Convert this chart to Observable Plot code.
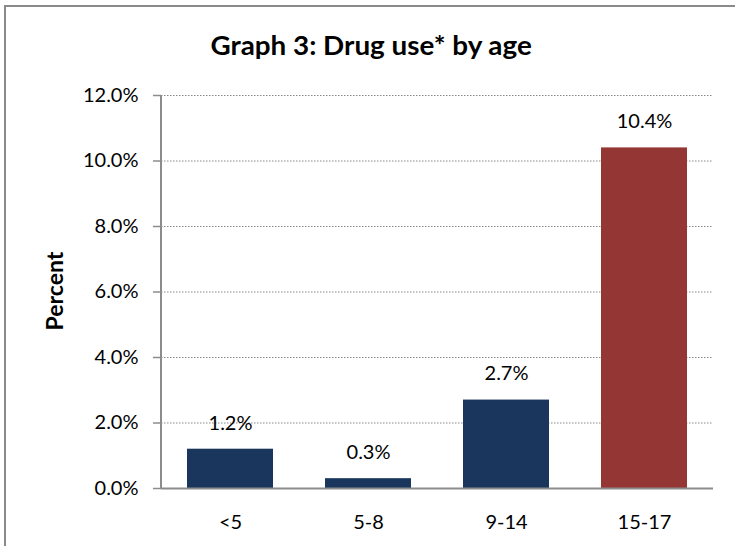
<!DOCTYPE html>
<html><head><meta charset="utf-8">
<script src="https://cdn.jsdelivr.net/npm/d3@7"></script>
<script src="https://cdn.jsdelivr.net/npm/@observablehq/plot@0.6"></script>
<style>
html,body{margin:0;padding:0;background:#fff;}
#wrap{position:relative;width:735px;height:546px;overflow:hidden;font-family:Lato,"Open Sans",sans-serif;}
#bl{position:absolute;left:4px;top:5px;width:2px;height:541px;background:#8a8a8a;}
#bt{position:absolute;left:4px;top:5px;width:731px;height:2px;background:#8a8a8a;}
#title{height:80px;line-height:90px;text-align:center;font-weight:bold;font-size:26px;color:#000;white-space:nowrap;}
#title span{display:inline-block;position:relative;left:4px;transform:scaleX(1.07);}
</style></head>
<body><div id="wrap"><div id="bl"></div><div id="bt"></div><div id="title"><span>Graph 3: Drug use* by age</span></div><div id="chart"></div></div>
<script>
const ages = ["<5", "5-8", "9-14", "15-17"];
const percents = [1.2, 0.3, 2.7, 10.4];
const barColors = ["#1b365d", "#1b365d", "#1b365d", "#943634"];
const yTicks = [0, 2, 4, 6, 8, 10, 12];

const data = ages.map((a, i) => ({age: a, value: percents[i], color: barColors[i]}));

const chart = Plot.plot({
  width: 735,
  height: 466,
  marginTop: 15,
  marginBottom: 58,
  marginLeft: 161,
  marginRight: 22,
  style: {fontFamily: "Lato, 'Open Sans', sans-serif", fontSize: "20px", color: "#000", background: "transparent", overflow: "visible"},
  x: {domain: ages, paddingInner: 0.375, paddingOuter: 0.1875, label: null},
  y: {domain: [0, 12], label: null},
  marks: [
    Plot.gridY(yTicks.filter(d => d > 0), {stroke: "#888", strokeOpacity: 1, strokeDasharray: "1.5,1.5", strokeWidth: 1}),
    Plot.barY(data, {x: "age", y: "value", fill: "color"}),
    Plot.ruleY([0], {stroke: "#8c8c8c", strokeWidth: 2}),
    Plot.axisY({ticks: yTicks, tickFormat: d => d.toFixed(1) + "%", tickSize: 8, tickPadding: 15, stroke: "#8c8c8c", strokeWidth: 1.5, fontSize: 20, label: null}),
    Plot.text(data, {x: "age", y: "value", text: d => d.value.toFixed(1) + "%", dy: -26, fontSize: 20, fill: "#000"}),
    Plot.axisX({tickSize: 0, tickPadding: 26, fontSize: 20, label: null})
  ]
});
const svg = d3.select(chart);
// y axis line along the left edge of the plot area
const ys = chart.scale("y");
svg.append("line")
  .attr("x1", 161).attr("x2", 161)
  .attr("y1", ys.apply(0) + 1).attr("y2", ys.apply(12))
  .attr("stroke", "#8c8c8c").attr("stroke-width", 2);
// rotated y label
svg.append("text")
  .attr("transform", "translate(63,211) rotate(-90)")
  .attr("text-anchor", "middle")
  .attr("font-weight", "bold")
  .attr("font-size", 23)
  .attr("fill", "#000")
  .text("Percent");
document.getElementById("chart").appendChild(chart);
</script>
</body></html>
